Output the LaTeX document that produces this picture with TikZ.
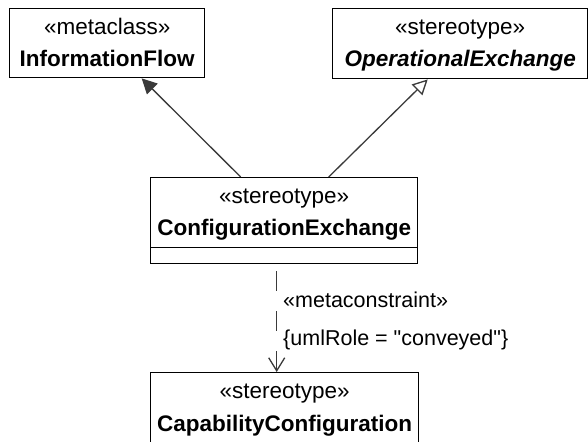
\documentclass[tikz,border=0pt]{standalone}
\usepackage{fontspec}
\setmainfont{Liberation Sans}
\newfontfamily\edgefont{Liberation Sans}
\usetikzlibrary{arrows.meta}
\definecolor{umlBorder}{HTML}{000000}
\definecolor{umlLine}{HTML}{3A3A3A}
\definecolor{umlText}{HTML}{000000}

\begin{document}
\begin{tikzpicture}[x=1pt, y=-1pt, font=\fontsize{22.5}{27}\selectfont,
  umlbox/.style={draw=umlBorder, line width=1.4pt, fill=white, inner sep=0pt, anchor=north west},
  stereo/.style={anchor=base, inner sep=0pt, text=umlText},
  clsname/.style={anchor=base, inner sep=0pt, text=umlText, font=\fontsize{22.5}{27}\selectfont\bfseries},
  extendmeta/.style={draw=umlLine, line width=1.3pt, -{Triangle[length=15pt, width=15pt]}},
  generalize/.style={draw=umlLine, line width=1.3pt, -{Triangle[open, length=15pt, width=15pt]}},
  dependency/.style={draw=umlLine, line width=1.3pt, dash pattern=on 20pt off 20pt, dash phase=33pt,
    -{Straight Barb[length=13pt, width=16pt]}},
  edgetext/.style={anchor=base west, inner sep=0pt, text=umlText, font=\edgefont\fontsize{21.5}{26}\selectfont}]
  \useasboundingbox (0,0) rectangle (588,441);
  \clip (0,0) rectangle (588,441);
  \fill[white] (0,0) rectangle (588,441);
  % metaclass and parent stereotype
  \node[umlbox, minimum width=195pt, minimum height=69pt] (infoflow) at (9,8) {};
  \node[stereo] (infoflowst) at ([yshift=-27pt]infoflow.north) {«metaclass»};
  \node[clsname] (infoflowname) at ([yshift=-59pt]infoflow.north) {InformationFlow};
  \node[umlbox, minimum width=255pt, minimum height=70pt] (opex) at (332,8) {};
  \node[stereo] (opexst) at ([yshift=-27pt]opex.north) {«stereotype»};
  \node[clsname, font=\fontsize{22.5}{27}\selectfont\bfseries\itshape] (opexname) at ([yshift=-59pt]opex.north) {OperationalExchange};
  % the stereotype itself
  \node[umlbox, minimum width=267pt, minimum height=86pt] (confex) at (150,177) {};
  \node[stereo] (confexst) at ([yshift=-26pt]confex.north) {«stereotype»};
  \node[clsname] (confexname) at ([yshift=-58pt]confex.north) {ConfigurationExchange};
  \draw[umlBorder, line width=1.4pt] ([yshift=17pt]confex.south west) -- ([yshift=17pt]confex.south east);
  % conveyed classifier
  \node[umlbox, minimum width=268pt, minimum height=95pt] (capconf) at (150,372) {};
  \node[stereo] (capconfst) at ([yshift=-26pt]capconf.north) {«stereotype»};
  \node[clsname] (capconfname) at ([yshift=-59pt]capconf.north) {CapabilityConfiguration};
  % connectors
  \draw[extendmeta] ([xshift=-43.5pt]confex.north) -- ([xshift=34.5pt]infoflow.south);
  \draw[generalize] ([xshift=44.5pt]confex.north) -- ([xshift=-32.5pt]opex.south);
  \draw[dependency] ([xshift=-7.5pt]confex.south) -- ([xshift=-8pt]capconf.north);
  \node[edgetext] (mcst) at (283,307) {«metaconstraint»};
  \node[edgetext] (mcrole) at (283,345) {\{umlRole = "conveyed"\}};
\end{tikzpicture}
\end{document}
